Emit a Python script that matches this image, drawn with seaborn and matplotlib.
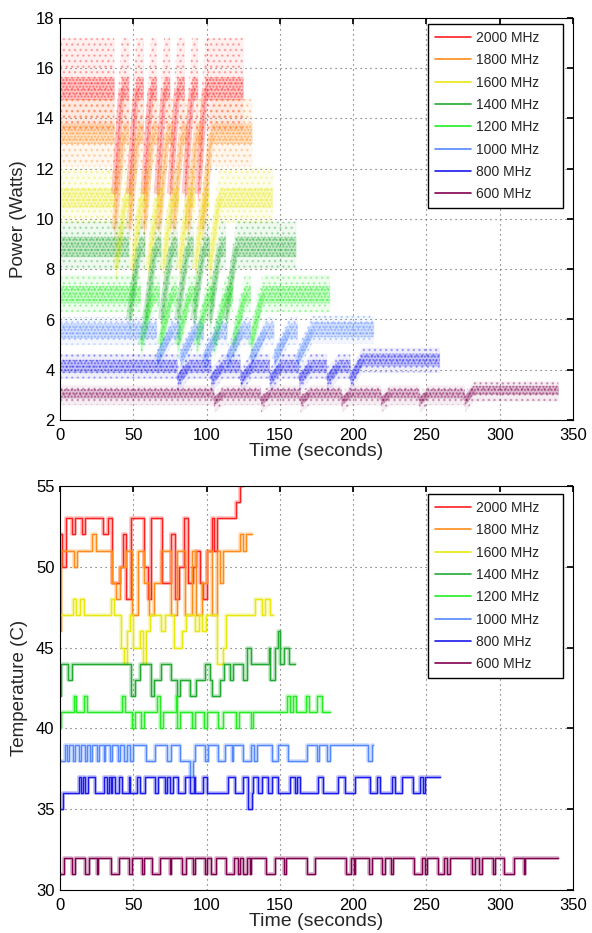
import matplotlib
matplotlib.use("Agg")
import matplotlib.pyplot as plt
import seaborn as sns
import pandas as pd
import numpy as np

sns.set_theme(style="white")
plt.rcParams['font.family'] = ['Liberation Sans', 'DejaVu Sans']

# ---- data -------------------------------------------------------------
freq_labels = ['2000 MHz', '1800 MHz', '1600 MHz', '1400 MHz',
               '1200 MHz', '1000 MHz', '800 MHz', '600 MHz']
freq_colors = ['#ff2020', '#ff8c1a', '#e8e810', '#22aa33',
               '#22ee22', '#5588ff', '#1a1aee', '#800050']

# power: typical level, low point after each workload drop, run length
power_core = [15.2, 13.4, 10.85, 8.9, 7.0, 5.55, 4.15, 3.05]
power_tail = [15.2, 13.4, 10.85, 8.9, 7.0, 5.6, 4.4, 3.2]
power_low = [11.0, 9.6, 8.0, 6.0, 5.0, 4.4, 3.6, 2.75]
power_end = [125, 131, 145, 161, 184, 214, 259, 340]
power_dense = [0.45, 0.4, 0.4, 0.4, 0.35, 0.3, 0.25, 0.18]
power_spread_lo = [1.7, 1.3, 1.0, 0.9, 0.7, 0.55, 0.5, 0.45]
power_spread_hi = [2.0, 1.4, 1.2, 1.0, 0.8, 0.55, 0.5, 0.35]
power_ramp = [5, 6, 6.5, 7, 8, 10, 8, 6]
power_drops = [
    [37, 47, 57, 66, 75, 85, 94],
    [37, 47, 57, 67, 77, 87, 97],
    [38, 49, 60, 70, 81, 92, 102],
    [47, 58, 69, 80, 91, 102, 113],
    [55, 68, 80, 93, 105, 118, 130],
    [66, 82, 98, 114, 130, 146, 162],
    [80, 103, 123, 143, 163, 182, 198],
    [105, 137, 164, 192, 219, 245, 276],
]

# temperature: change points (seconds) and the new integer reading
temp_t_2000 = [0, 1.1, 3.8, 8.4, 10, 15.2, 16.8, 29.5, 32.7, 35.6, 40.9, 43.1, 44.7, 48.6,
               57.2, 60, 61.8, 69.7, 75.4, 78.8, 81.1, 84.5, 87.2, 90.9, 92.5, 95.4,
               97.7, 100.4, 103.8, 105.4, 107.2, 120.4, 122.5]
temp_v_2000 = [52, 50, 53, 52, 53, 52, 53, 52, 53, 49, 50, 52, 48, 53,
               50, 48, 53, 49, 52, 48, 50, 53, 49, 50, 51, 49,
               48, 51, 53, 51, 53, 54, 55]
temp_t_1800 = [0, 1, 9.5, 11.3, 22, 24.3, 35.6, 37.9, 41, 44.7, 49, 53, 57, 61, 64, 69,
               76, 80, 85, 90, 93, 97, 100, 104, 107, 109.5, 111, 123, 125, 126.6]
temp_v_1800 = [46, 51, 50, 51, 52, 51, 49, 48, 50, 51, 47, 51, 49, 47, 49, 51,
               47, 51, 47, 51, 47, 49, 51, 47, 51, 49, 51, 52, 51, 52]
temp_t_1600 = [0, 8.8, 10.6, 13.6, 16.3, 34.5, 36.8, 41.3, 43.6, 45.9, 47.7, 50, 54.5,
               56.7, 58.5, 61.7, 69, 71.3, 78, 83, 86, 92, 95, 97, 99.5, 107, 111, 113,
               133, 138, 140, 143]
temp_v_1600 = [47, 48, 47, 48, 47, 48, 47, 45, 44, 46, 47, 45, 46,
               44, 46, 47, 46, 47, 45, 46, 47, 46, 47, 46, 47, 44, 45, 47,
               48, 47, 48, 47]
temp_t_1400 = [0, 1, 5.7, 8.4, 48.2, 51, 54.5, 62.2, 64, 68.6, 75.4, 80, 82, 89, 92.5,
               99, 102, 104, 109.5, 111.7, 116, 118, 125, 127.7, 130, 142.5, 143.6,
               147, 148.6, 150.4, 152.7, 156]
temp_v_1400 = [42, 44, 43, 44, 42, 43, 44, 42, 43, 44, 43, 42, 43, 42, 43,
               44, 43, 42, 43, 44, 43, 44, 43, 45, 44, 45, 43,
               45, 46, 44, 45, 44]
temp_t_1200 = [0, 1, 9.5, 10.6, 16.3, 18.6, 42.4, 44.2, 49.3, 51.5, 55, 57.2, 66, 68, 70,
               79, 80, 82, 90, 92, 98, 100, 108, 111, 120, 122, 130, 132, 155, 157,
               159, 161, 168, 170, 175, 178.6]
temp_v_1200 = [40, 41, 42, 41, 42, 41, 42, 41, 40, 41, 40, 41, 42, 40, 41,
               42, 40, 41, 40, 41, 40, 41, 40, 41, 40, 41, 40, 41, 42, 41,
               42, 41, 42, 41, 42, 41]
temp_t_1000 = [0, 3.6, 4.7, 5.9, 8.6, 10, 13.1, 14.5, 17.2, 18.6, 20.6, 21.8, 25.2, 26.3,
               29.7, 30.9, 34.3, 35.4, 39.5, 41.1, 44, 45.6, 47.9, 49.5, 58.6, 64.9,
               72.9, 75.8, 82, 88.8, 90.4, 92.2, 99, 100.8, 108.1, 112.7, 117.2, 118.3,
               125.1, 130.4, 132.6, 134.5, 144.5, 148.6, 155.8, 168.3, 175.1, 176.7,
               181.9, 184.2, 210.3, 212.6]
temp_v_1000 = [38, 39, 38, 39, 38, 39, 38, 39, 38, 39, 38, 39, 38, 39,
               38, 39, 38, 39, 38, 39, 38, 39, 38, 39, 38, 39,
               38, 39, 38, 37, 38, 39, 38, 39, 38, 39, 38, 39,
               38, 39, 38, 39, 38, 39, 38, 39, 38, 39,
               38, 39, 38, 39]
temp_t_800 = [0, 1.8, 12.7, 14.5, 15.4, 16.8, 19, 24, 29.7, 32, 33.1, 35, 35.8, 37.7,
              40.4, 42.2, 46.8, 47.9, 52.4, 54.7, 58.1, 64.9, 67.2, 71.3, 72.9, 75.2,
              77.4, 80.8, 85.4, 88.8, 91.1, 92.2, 97.9, 100.2, 114.9, 119.5, 125.1,
              128.5, 131.3, 131.9, 135.4, 137.6, 142.2, 144.5, 149, 156.9, 160.4,
              161.5, 163.8, 176.3, 179.7, 189.9, 194.4, 201.3, 211.5, 216, 218.3,
              226.2, 228.5, 233.1, 241, 245.6, 247.8, 249]
temp_v_800 = [35, 36, 37, 36, 37, 36, 37, 36, 37, 36, 37, 36, 37, 36,
              37, 36, 37, 36, 37, 36, 37, 36, 37, 36, 37, 36,
              37, 36, 37, 36, 37, 36, 37, 36, 37, 36, 37,
              35, 36, 37, 36, 37, 36, 37, 36, 37, 36,
              37, 36, 37, 36, 37, 36, 37, 36, 37, 36,
              37, 36, 37, 36, 37, 36, 37]
temp_t_600 = [0, 3, 8, 10, 17, 20, 25, 26, 35, 40, 47, 49, 56, 57, 63, 68, 75, 76, 83, 86,
              91, 92, 98.6, 100, 102.7, 106.1, 113, 118.6, 121.4, 122.7, 125, 127.7,
              129.5, 130.4, 140.7, 147, 152.7, 153.9, 168.2, 174.3, 194.8, 198.2,
              200.5, 201.6, 210.7, 213, 219.8, 221.4, 225.9, 227.3, 241.4, 247,
              249.3, 250.5, 257.7, 261.8, 264, 265.9, 281.2, 283.4, 285.7, 288,
              295.5, 297, 302.7, 309.6, 316.4, 317.5]
temp_v_600 = [31, 32, 31, 32, 31, 32, 31, 32, 31, 32, 31, 32, 31, 32, 31, 32, 31, 32, 31, 32,
              31, 32, 31, 32, 31, 32, 31, 32, 31, 32, 31, 32,
              31, 32, 31, 32, 31, 32, 31, 32, 31, 32,
              31, 32, 31, 32, 31, 32, 31, 32, 31, 32,
              31, 32, 31, 32, 31, 32, 31, 32, 31, 32,
              31, 32, 31, 32, 31, 32]

temp_times = [temp_t_2000, temp_t_1800, temp_t_1600, temp_t_1400,
              temp_t_1200, temp_t_1000, temp_t_800, temp_t_600]
temp_values = [temp_v_2000, temp_v_1800, temp_v_1600, temp_v_1400,
               temp_v_1200, temp_v_1000, temp_v_800, temp_v_600]
temp_end = [125, 131, 145, 160, 184.5, 213.7, 259, 340]


def power_trace(core, tail, low, drops, ramp, end):
    t, p = [0], [core]
    for k, d in enumerate(drops):
        top = tail if k == len(drops) - 1 else core
        t += [d, d, d + ramp]
        p += [p[-1], low, top]
    t.append(end)
    p.append(tail)
    return np.array(t, float), np.array(p, float)


def ramp_segments(core, tail, low, drops, ramp):
    t, p = [], []
    for k, d in enumerate(drops):
        top = tail if k == len(drops) - 1 else core
        t += [d, d + ramp, np.nan]
        p += [low, top, np.nan]
    return np.array(t, float), np.array(p, float)


def style_axes(ax, ylim, yticks, ylabel):
    ax.set_xlim(0, 350)
    ax.set_ylim(*ylim)
    ax.set_xticks(range(0, 351, 50))
    ax.set_yticks(yticks)
    ax.grid(True, linestyle=(0, (1, 3.5)), color='0.35', linewidth=0.8)
    ax.tick_params(direction='in', length=4, top=True, right=True,
                   labelsize=12, colors='black')
    ax.tick_params(axis='x', pad=6)
    ax.tick_params(axis='y', pad=4)
    for s in ax.spines.values():
        s.set_color('black')
        s.set_linewidth(0.8)
    ax.set_xlabel('Time (seconds)', fontsize=14, labelpad=0)
    ax.set_ylabel(ylabel, fontsize=13.5, labelpad=6)


fig = plt.figure(figsize=(5.92, 9.33), dpi=100)
ax1 = fig.add_axes([60 / 592, 1 - 420 / 933, 513 / 592, 402 / 933])
ax2 = fig.add_axes([60 / 592, 1 - 890 / 933, 513 / 592, 404 / 933])

# ---- power clouds ------------------------------------------------------
for i in range(len(freq_labels)):
    args = (power_core[i], power_tail[i], power_low[i], power_drops[i], power_ramp[i])
    t, p = power_trace(*args, power_end[i])
    c = freq_colors[i]
    ax1.fill_between(t, p - power_spread_lo[i], p + power_spread_hi[i],
                     color=c, alpha=0.07, linewidth=0)
    ax1.fill_between(t, p - power_spread_lo[i], p + power_spread_hi[i],
                     facecolor='none', edgecolor=c, hatch='...', alpha=0.3, linewidth=0)
    ax1.fill_between(t, p - power_dense[i], p + power_dense[i],
                     facecolor='none', edgecolor=c, hatch='.....', alpha=0.5, linewidth=0)
    ax1.fill_between(t, p - power_dense[i], p + power_dense[i],
                     color=c, alpha=0.2, linewidth=0)
    rt, rp = ramp_segments(*args)
    ax1.plot(rt, rp, color=c, linewidth=4.5, alpha=0.22, solid_capstyle='butt')

# ---- temperature steps -------------------------------------------------
handles = []
for i in range(len(freq_labels)):
    df = pd.DataFrame({'t': temp_times[i] + [temp_end[i]],
                       'temp': temp_values[i] + [temp_values[i][-1]]})
    sns.lineplot(data=df, x='t', y='temp', ax=ax2, color=freq_colors[i],
                 drawstyle='steps-post', linewidth=2.6, alpha=0.3,
                 estimator=None, sort=False, legend=False)
    sns.lineplot(data=df, x='t', y='temp', ax=ax2, color=freq_colors[i],
                 drawstyle='steps-post', linewidth=1.0,
                 estimator=None, sort=False, legend=False)
    handles.append(plt.Line2D([], [], color=freq_colors[i], linewidth=1.2))

style_axes(ax1, (2, 18), range(2, 19, 2), 'Power (Watts)')
style_axes(ax2, (30, 55), range(30, 56, 5), 'Temperature (C)')

# MATLAB-like legend: fixed-width box, entries packed to the left
for ax, top in [(ax1, 0.985), (ax2, 0.980)]:
    leg = ax.legend(handles, freq_labels, loc='upper left',
                    bbox_to_anchor=(0.7173, top - 0.6, 0.263, 0.6), mode='expand',
                    borderaxespad=0, fontsize=10, handlelength=2.6, labelspacing=0.6,
                    fancybox=False, framealpha=1, edgecolor='black',
                    borderpad=0.5, handletextpad=0.35)
    leg.get_frame().set_linewidth(1.0)

fig.savefig('out.png', dpi=100)
